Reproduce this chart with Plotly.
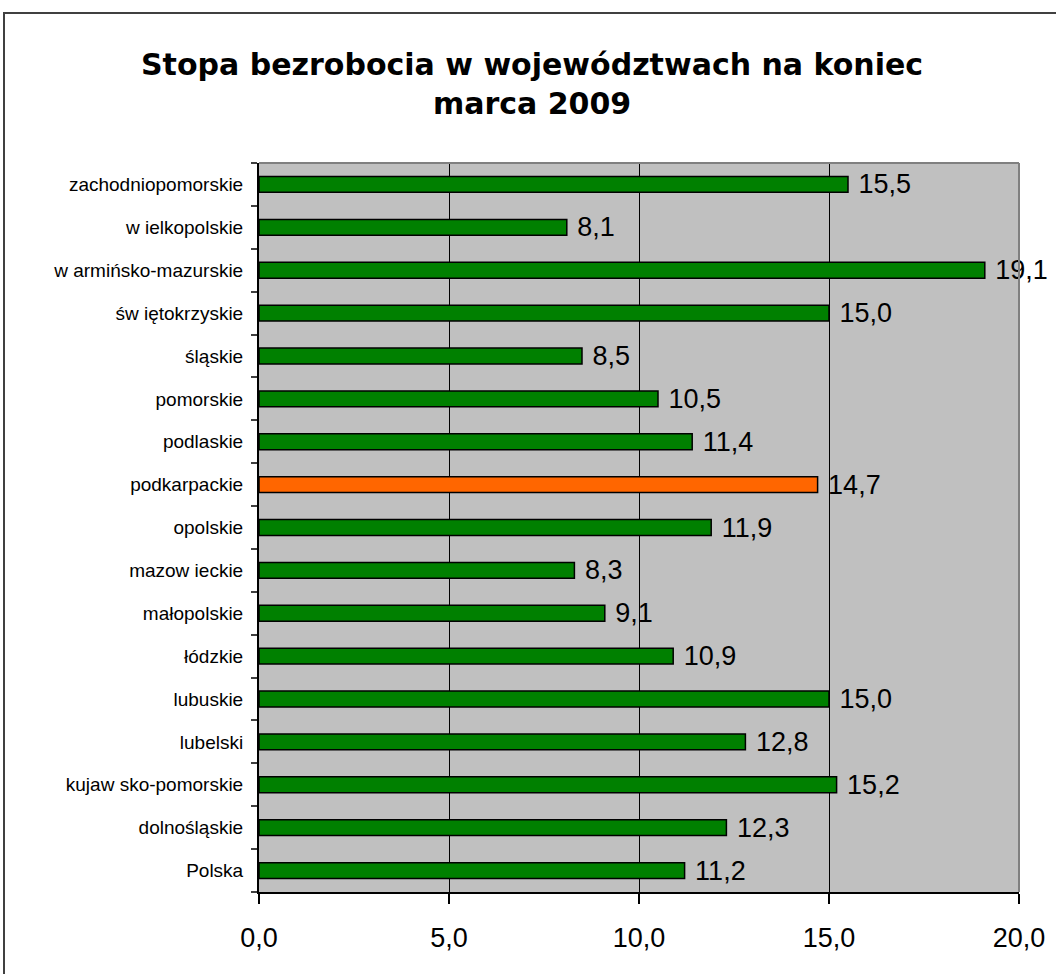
import plotly.graph_objects as go

categories = ["Polska", "dolnośląskie", "kujaw sko-pomorskie", "lubelski", "lubuskie",
              "łódzkie", "małopolskie", "mazow ieckie", "opolskie", "podkarpackie",
              "podlaskie", "pomorskie", "śląskie", "św iętokrzyskie",
              "w armińsko-mazurskie", "w ielkopolskie", "zachodniopomorskie"]
values = [11.2, 12.3, 15.2, 12.8, 15.0, 10.9, 9.1, 8.3, 11.9, 14.7,
          11.4, 10.5, 8.5, 15.0, 19.1, 8.1, 15.5]
highlight = "podkarpackie"
x_ticks = [0, 5, 10, 15, 20]
title = "Stopa bezrobocia w województwach na koniec<br>marca 2009"

colors = ["#FF6600" if c == highlight else "#008000" for c in categories]

fig = go.Figure()
fig.add_trace(go.Bar(
    y=categories, x=values, orientation="h",
    marker=dict(color=colors, line=dict(color="black", width=1.5)),
    width=0.37,
    texttemplate=" %{x:.1f}", textposition="outside",
    textfont=dict(family="Liberation Sans, Arial", size=27, color="black"),
    constraintext="none", cliponaxis=False,
    hoverinfo="skip",
))

L, R, T, B = 259, 1019, 163, 892
W, H = 1056, 974

fig.update_layout(
    width=W, height=H,
    margin=dict(l=L, r=W - R, t=T, b=H - B),
    paper_bgcolor="white", plot_bgcolor="#C0C0C0",
    separators=", ",
    showlegend=False,
    annotations=[dict(
        text="<b>" + title + "</b>", xref="paper", yref="paper",
        x=(532 - L) / (R - L), y=(B - 84) / (B - T),
        xanchor="center", yanchor="middle", showarrow=False, align="center",
        font=dict(family="DejaVu Sans", size=30, color="black"),
    )],
    shapes=[
        dict(type="rect", xref="paper", yref="paper",
             x0=(4 - L) / (R - L), x1=(1070 - L) / (R - L),
             y0=(B - 1000) / (B - T), y1=(B - 13) / (B - T),
             line=dict(color="#404040", width=2), fillcolor="rgba(0,0,0,0)", layer="below"),
        dict(type="line", xref="paper", yref="paper", x0=0, x1=1, y0=1, y1=1,
             line=dict(color="#808080", width=2), layer="above"),
        dict(type="line", xref="paper", yref="paper", x0=1, x1=1, y0=0, y1=1,
             line=dict(color="#808080", width=2), layer="above"),
    ],
)

fig.update_xaxes(
    range=[0, 20], tickvals=x_ticks, tickformat=".1f",
    showgrid=True, gridcolor="black", gridwidth=1,
    zeroline=False, showline=True, linecolor="black", linewidth=2,
    ticks="outside", ticklen=10, tickcolor="black", tickwidth=1.5,
    ticklabelstandoff=11,
    tickfont=dict(family="Liberation Sans, Arial", size=27, color="black"),
    fixedrange=True,
)
fig.update_yaxes(
    categoryorder="array", categoryarray=categories,
    showgrid=False, zeroline=False,
    showline=True, linecolor="black", linewidth=2,
    ticks="outside", tickson="boundaries", ticklen=6, tickcolor="#404040", tickwidth=1.5,
    ticklabelstandoff=10,
    tickfont=dict(family="Liberation Sans, Arial", size=19, color="black"),
    fixedrange=True,
)

fig.write_html("out.html", config={"displayModeBar": False},
               post_script="document.body.style.margin='0';")
